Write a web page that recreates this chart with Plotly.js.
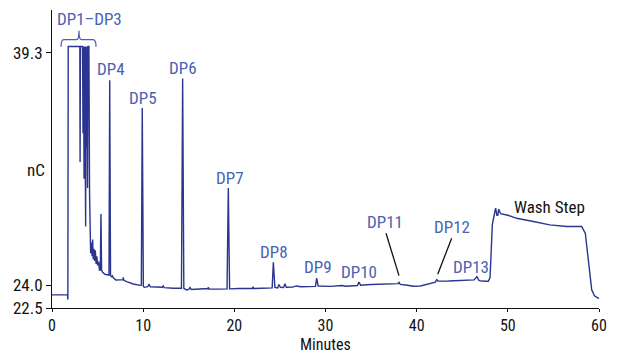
<!DOCTYPE html>
<html>
<head>
<meta charset="utf-8">
<script src="https://cdn.plot.ly/plotly-3.0.1.min.js"></script>
<style>html,body{margin:0;padding:0;background:#fff;}#chart{width:622px;height:353px;}</style>
</head>
<body>
<div id="chart"></div>
<script>
// Retention time (minutes)
const timeMin = [
  0, 1.70, 1.74, 1.78, 3.05, 3.08, 3.12, 3.35, 3.40, 3.45, 3.52, 3.58, 3.65, 3.69, 3.74, 3.80, 3.86, 3.90, 3.95, 4.05,
  4.12, 4.18, 4.24, 4.32, 4.40, 4.46, 4.52, 4.60, 4.68, 4.75, 4.84, 4.92, 5.00, 5.12, 5.20, 5.30, 5.37, 5.44, 5.55, 5.80,
  6.10, 6.25, 6.33, 6.42, 6.54, 6.62, 6.70, 7.00, 7.50, 7.78, 7.82, 7.88, 8.19, 8.92, 9.65, 9.80, 9.90, 10.02, 10.13, 10.50,
  10.64, 10.78, 11.50, 12.10, 12.20, 12.30, 13.30, 14.20, 14.33, 14.46, 14.77, 15.00, 15.14, 15.28, 16.20, 17.10, 17.15, 17.22, 18.43, 19.20,
  19.34, 19.48, 20.50, 22.00, 22.05, 22.12, 23.00, 24.15, 24.28, 24.45, 24.75, 24.90, 25.05, 25.40, 25.55, 25.70, 26.40, 26.80, 27.30, 28.50,
  28.90, 29.03, 29.20, 30.50, 31.80, 32.20, 33.50, 33.67, 33.85, 35.00, 36.30, 37.50, 37.95, 38.06, 38.20, 39.00, 39.60, 40.40, 41.00, 42.05,
  42.20, 42.35, 43.50, 44.75, 45.80, 46.30, 46.60, 46.85, 47.50, 47.86, 48.05, 48.30, 48.50, 48.66, 48.80, 48.90, 49.00, 49.20, 50.00, 50.97,
  52.80, 54.60, 56.47, 58.10, 58.50, 58.87, 59.20, 59.50, 59.93, 60.00
];
// Detector response (nC)
const signalNC = [
  23.36, 23.36, 23.05, 39.70, 39.70, 32.10, 39.70, 39.70, 34.00, 39.70, 31.00, 39.70, 29.00, 27.86, 39.70, 33.00, 39.70, 30.40, 39.70, 39.70,
  30.00, 27.50, 26.10, 26.80, 25.90, 27.00, 25.70, 26.40, 25.60, 26.30, 25.40, 25.90, 25.30, 25.55, 25.00, 25.00, 28.69, 25.00, 24.85, 24.72,
  24.68, 24.66, 37.48, 24.62, 24.56, 24.62, 24.50, 24.34, 24.35, 24.35, 24.52, 24.32, 24.23, 24.08, 23.99, 24.00, 35.65, 23.92, 23.86, 23.90,
  24.08, 23.90, 23.88, 23.86, 23.95, 23.84, 23.80, 23.80, 37.59, 23.80, 23.69, 23.72, 23.85, 23.72, 23.75, 23.78, 23.86, 23.75, 23.74, 23.76,
  30.40, 23.76, 23.78, 23.78, 23.90, 23.78, 23.80, 23.82, 25.50, 23.85, 23.82, 24.05, 23.86, 23.85, 24.10, 23.86, 23.87, 23.95, 23.90, 23.90,
  23.92, 24.46, 23.95, 23.92, 23.98, 23.93, 23.98, 24.20, 24.00, 24.05, 24.08, 24.12, 24.10, 24.19, 24.05, 24.00, 23.93, 23.95, 24.05, 24.20,
  24.36, 24.27, 24.28, 24.30, 24.32, 24.35, 24.56, 24.30, 24.26, 24.26, 24.50, 28.00, 28.60, 29.07, 28.60, 28.60, 29.00, 28.70, 28.60, 28.40,
  28.19, 27.97, 27.86, 27.86, 27.40, 25.44, 23.70, 23.30, 23.14, 23.12
];
// Peak labels
const peakLabels = ['DP1–DP3', 'DP4', 'DP5', 'DP6', 'DP7', 'DP8', 'DP9', 'DP10', 'DP11', 'DP12', 'DP13'];
const labelX = [4.1, 6.5, 10.0, 14.4, 19.5, 24.3, 29.15, 33.7, 36.5, 43.9, 45.95];
const labelY = [41.54, 38.2, 36.3, 38.3, 31.06, 26.2, 25.22, 24.9, 28.18, 27.8, 25.2];
const xTicks = [0, 10, 20, 30, 40, 50, 60];
const yTicks = [22.5, 24.0, 39.3];
const yTickText = ['22.5', '24.0', '39.3'];

const FONT = '"Liberation Sans Narrow", "Roboto Condensed", "Liberation Sans", Arial, sans-serif';
const LABEL_BLUE = '#4a62b0';
const LINE_BLUE = '#2b3590';

const annotations = peakLabels.map((t, i) => ({
  text: t, x: labelX[i], y: labelY[i], xref: 'x', yref: 'y', showarrow: false,
  font: {family: FONT, size: 17, color: LABEL_BLUE}, xanchor: 'center', yanchor: 'middle'
}));
annotations.push({text: 'Wash Step', x: 54.6, y: 29.15, xref: 'x', yref: 'y', showarrow: false,
  font: {family: FONT, size: 17, color: '#111'}, xanchor: 'center', yanchor: 'middle'});
annotations.push({text: 'nC', x: -0.029, y: 31.59, xref: 'paper', yref: 'y', showarrow: false,
  font: {family: FONT, size: 17, color: '#111'}, xanchor: 'center', yanchor: 'middle'});
annotations.push({text: 'Minutes', x: 30, y: -0.124, xref: 'x', yref: 'paper', showarrow: false,
  font: {family: FONT, size: 16, color: '#111'}, xanchor: 'center', yanchor: 'middle'});

const shapes = [
  {type: 'path', xref: 'x', yref: 'y',
   path: 'M 0.99,39.69 Q 0.99,40.15 1.3,40.15 L 2.7,40.15 Q 2.96,40.15 2.96,40.74 Q 2.96,40.15 3.22,40.15 L 4.5,40.15 Q 4.83,40.15 4.83,39.69',
   line: {color: LABEL_BLUE, width: 1.3}},
  {type: 'line', xref: 'x', yref: 'y', x0: 36.64, y0: 27.42, x1: 38.06, y1: 24.63, line: {color: '#111', width: 1.3}},
  {type: 'line', xref: 'x', yref: 'y', x0: 43.84, y0: 27.09, x1: 42.31, y1: 24.72, line: {color: '#111', width: 1.3}}
];

const trace = {
  x: timeMin, y: signalNC, type: 'scatter', mode: 'lines',
  line: {color: LINE_BLUE, width: 1.4, shape: 'linear'}, hoverinfo: 'skip'
};

const layout = {
  width: 622, height: 353,
  margin: {l: 52, r: 23, t: 10, b: 45, pad: 0},
  paper_bgcolor: '#fff', plot_bgcolor: '#fff',
  showlegend: false,
  font: {family: FONT, size: 17, color: '#111'},
  xaxis: {
    range: [0, 60], tickvals: xTicks, ticks: 'outside', ticklen: 3, tickwidth: 1, tickcolor: '#111',
    showline: true, linecolor: '#111', linewidth: 1, showgrid: false, zeroline: false,
    tickfont: {family: FONT, size: 16, color: '#111'}
  },
  yaxis: {
    range: [22.5, 42.1], tickvals: yTicks, ticktext: yTickText, ticks: 'outside', ticklen: 5, tickwidth: 1, tickcolor: '#111',
    showline: true, linecolor: '#111', linewidth: 1, showgrid: false, zeroline: false,
    tickfont: {family: FONT, size: 17, color: '#111'}
  },
  annotations: annotations,
  shapes: shapes
};

Plotly.newPlot('chart', [trace], layout, {staticPlot: true, displayModeBar: false});
</script>
</body>
</html>
